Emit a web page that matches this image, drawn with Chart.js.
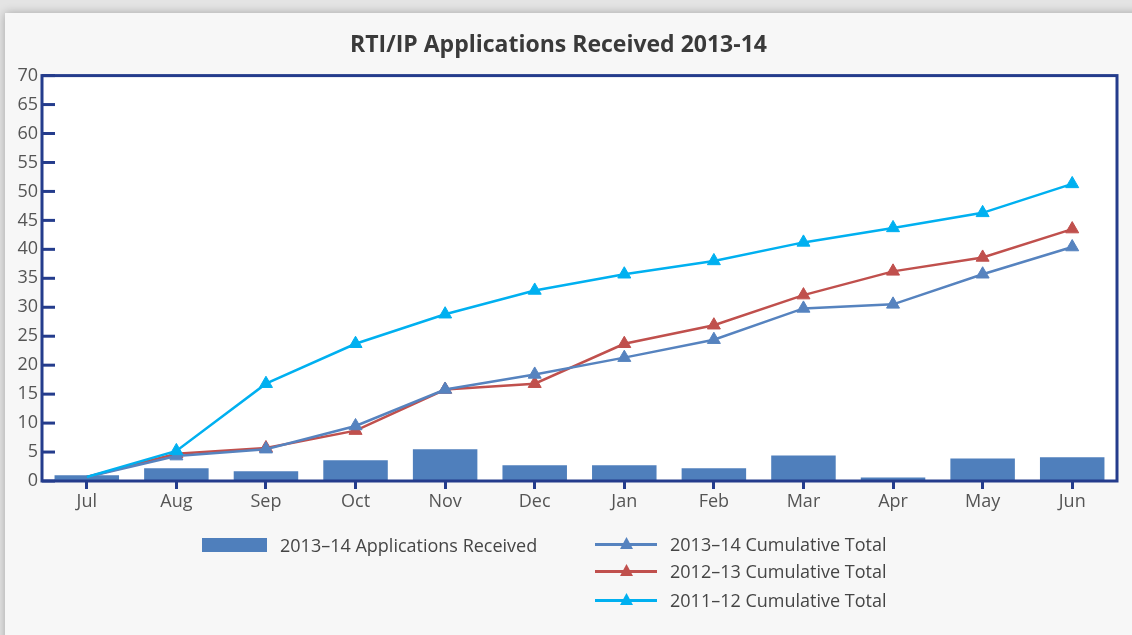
<!DOCTYPE html>
<html lang="en">
<head>
  <meta charset="UTF-8" />
  <title>RTI/IP Applications Received 2013-14</title>
  <script src="https://cdn.jsdelivr.net/npm/chart.js"></script>
  <style>
    html, body { margin: 0; padding: 0; }
    body {
      width: 1132px;
      height: 635px;
      overflow: hidden;
      background: #e4e4e4;
      font-family: "Open Sans", sans-serif;
      position: relative;
    }
    .panel {
      position: absolute;
      left: 5px;
      top: 13px;
      width: 1150px;
      height: 650px;
      background: #f7f7f7;
      box-shadow: 0 0 9px rgba(0, 0, 0, 0.28);
    }
    #wrap {
      position: absolute;
      left: 0;
      top: 0;
      width: 1132px;
      height: 635px;
    }
    .legend-item {
      position: absolute;
      display: flex;
      align-items: center;
      height: 28px;
      font-size: 18px;
      color: #454545;
      white-space: nowrap;
    }
    .legend-item .box {
      width: 65px;
      height: 14px;
      margin-right: 13px;
    }
    .legend-item .line {
      position: relative;
      width: 62px;
      height: 14px;
      margin-right: 13px;
    }
    .legend-item .line .stroke {
      position: absolute;
      left: 0;
      right: 0;
      top: 6px;
      height: 3px;
    }
    .legend-item .line .tri {
      position: absolute;
      left: 25px;
      top: 0;
      width: 13px;
      height: 12px;
      clip-path: polygon(50% 0, 100% 100%, 0 100%);
    }
  </style>
</head>
<body>
  <div class="panel"></div>
  <div id="wrap"><canvas id="rtiChart"></canvas></div>
  <div id="legend"></div>

  <script>
    const months = ["Jul", "Aug", "Sep", "Oct", "Nov", "Dec", "Jan", "Feb", "Mar", "Apr", "May", "Jun"];
    const received1314 = [1.0, 2.2, 1.7, 3.6, 5.5, 2.7, 2.7, 2.2, 4.4, 0.6, 3.9, 4.1];
    const cumulative1314 = [0.7, 4.3, 5.5, 9.5, 15.8, 18.4, 21.3, 24.4, 29.8, 30.5, 35.7, 40.4];
    const cumulative1213 = [0.7, 4.7, 5.7, 8.7, 15.8, 16.8, 23.7, 26.9, 32.1, 36.2, 38.6, 43.5];
    const cumulative1112 = [0.7, 5.2, 16.8, 23.7, 28.8, 32.9, 35.7, 38.0, 41.2, 43.7, 46.3, 51.3];

    const navy = "#243c8c";
    const textColor = "#555";

    // white plot area + navy frame + inward y ticks
    const frame = {
      id: "frame",
      beforeDatasetsDraw(chart) {
        const { ctx, chartArea: a } = chart;
        ctx.save();
        ctx.fillStyle = "#fff";
        ctx.fillRect(a.left, a.top, a.right - a.left, a.bottom - a.top);
        ctx.restore();
      },
      afterDatasetsDraw(chart) {
        const { ctx, chartArea: a } = chart;
        const y = chart.scales.y;
        ctx.save();
        ctx.strokeStyle = navy;
        ctx.lineWidth = 3;
        y.ticks.forEach(t => {
          const py = y.getPixelForValue(t.value);
          ctx.beginPath();
          ctx.moveTo(a.left, py);
          ctx.lineTo(a.left + 13, py);
          ctx.stroke();
        });
        ctx.strokeRect(a.left, a.top, a.right - a.left, a.bottom - a.top);
        ctx.restore();
      }
    };

    const lineSet = (label, data, color, order) => ({
      type: "line",
      label,
      data,
      borderColor: color,
      backgroundColor: color,
      borderWidth: 2.5,
      tension: 0,
      pointStyle: "triangle",
      pointRadius: c => (c.dataIndex === 0 ? 0 : 7.5),
      pointHoverRadius: 8,
      pointBorderWidth: 1,
      order
    });

    const chart = new Chart(document.getElementById("rtiChart"), {
      type: "bar",
      data: {
        labels: months,
        datasets: [
          {
            label: "2013\u201314 Applications Received",
            data: received1314,
            backgroundColor: "#4f7fbc",
            categoryPercentage: 1,
            barPercentage: 0.72,
            order: 10
          },
          lineSet("2013\u201314 Cumulative Total", cumulative1314, "#5683bf", 1),
          lineSet("2012\u201313 Cumulative Total", cumulative1213, "#c0504d", 2),
          lineSet("2011\u201312 Cumulative Total", cumulative1112, "#00b0f0", 0)
        ]
      },
      options: {
        responsive: true,
        maintainAspectRatio: false,
        animation: false,
        layout: { padding: { left: 0, right: 15, top: 0, bottom: 0 } },
        plugins: {
          legend: { display: false },
          tooltip: { enabled: true },
          title: {
            display: true,
            text: "RTI/IP Applications Received 2013-14",
            color: "#3a3a3a",
            font: { family: "'Open Sans', sans-serif", size: 23, weight: "bold" },
            padding: { top: 32, bottom: 16 }
          }
        },
        scales: {
          x: {
            offset: true,
            grid: { drawOnChartArea: false, drawTicks: true, tickLength: 8, color: navy, lineWidth: 3, offset: false },
            border: { display: false },
            ticks: { color: textColor, padding: 2, font: { family: "'Open Sans', sans-serif", size: 18 } },
            afterFit: s => { s.height = 154; }
          },
          y: {
            min: 0,
            max: 70,
            ticks: { stepSize: 5, color: textColor, padding: 4, font: { family: "'Open Sans', sans-serif", size: 18 } },
            grid: { drawOnChartArea: false, drawTicks: false },
            border: { display: false },
            afterFit: s => { s.width = 42; }
          }
        }
      },
      plugins: [frame]
    });

    // legend in two columns, built from the datasets
    const legendBox = document.getElementById("legend");
    const spots = [
      { left: 202, top: 531 },
      { left: 595, top: 530 },
      { left: 595, top: 557 },
      { left: 595, top: 586 }
    ];
    chart.data.datasets.forEach((ds, i) => {
      const item = document.createElement("div");
      item.className = "legend-item";
      item.style.left = spots[i].left + "px";
      item.style.top = spots[i].top + "px";
      const c = ds.backgroundColor;
      if (ds.type === "line") {
        item.innerHTML = `<span class="line"><span class="stroke" style="background:${c}"></span><span class="tri" style="background:${c}"></span></span>${ds.label}`;
      } else {
        item.innerHTML = `<span class="box" style="background:${c}"></span>${ds.label}`;
      }
      legendBox.appendChild(item);
    });
  </script>
</body>
</html>
